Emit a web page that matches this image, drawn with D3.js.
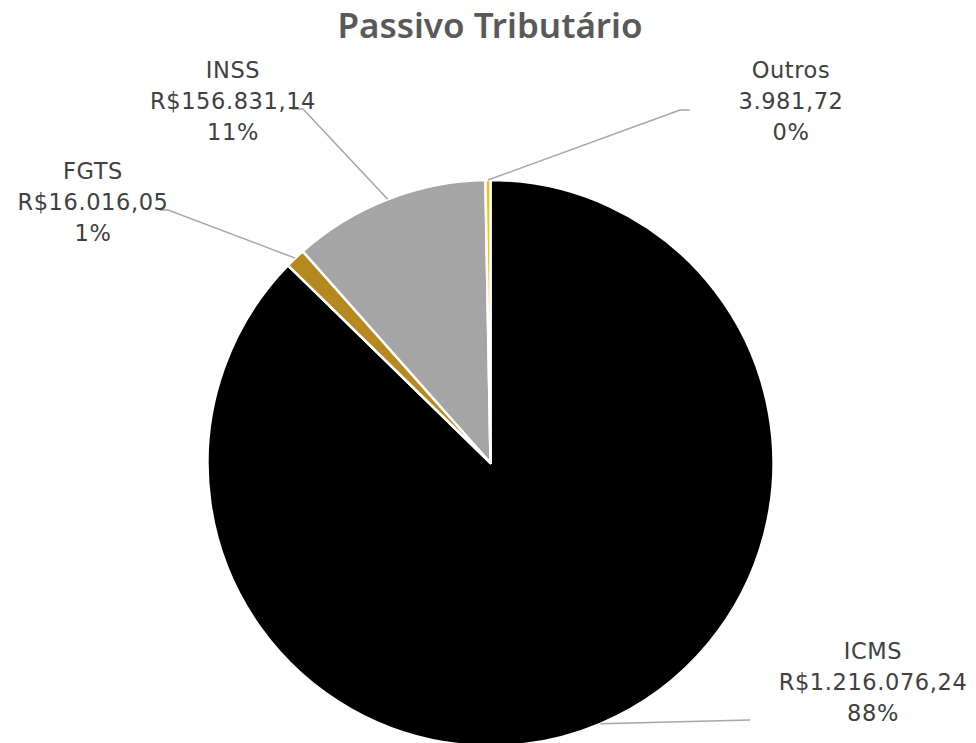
<!DOCTYPE html>
<html>
<head>
<meta charset="utf-8">
<script src="https://cdn.jsdelivr.net/npm/d3@7"></script>
<style>
  body { margin: 0; background: #fff; }
  text { font-family: "DejaVu Sans", sans-serif; }
</style>
</head>
<body>
<svg width="976" height="743"></svg>
<script>
var categories = ["ICMS", "FGTS", "INSS", "Outros"],
    values = [1216076.24, 16016.05, 156831.14, 3981.72],
    valueLabels = ["R$1.216.076,24", "R$16.016,05", "R$156.831,14", "3.981,72"],
    pctLabels = ["88%", "1%", "11%", "0%"],
    colors = ["#000000", "#b5891f", "#a5a5a5", "#ffc000"];

// label placement (layout only): first baseline, and elbow of the leader line
var labelPos = [
  {x: 873, y: 659, ex: 750, ey: 720, hx: 750},
  {x: 93,  y: 179, ex: 168, ey: 210, hx: 160},
  {x: 233, y: 78,  ex: 303, ey: 109, hx: 292},
  {x: 791, y: 78,  ex: 680, ey: 110, hx: 690}
];

var svg = d3.select("svg"),
    width = +svg.attr("width"),
    height = +svg.attr("height"),
    cx = 490.5, cy = 463, radius = 283;

svg.append("text")
    .attr("x", 490)
    .attr("y", 38)
    .attr("text-anchor", "middle")
    .style("font-family", "'Noto Sans', sans-serif")
    .style("font-size", "35px")
    .style("font-weight", 600)
    .style("fill", "#595959")
    .text("Passivo Tributário");

var data = categories.map(function(c, i) {
  return {name: c, value: values[i], vlabel: valueLabels[i], plabel: pctLabels[i], color: colors[i], pos: labelPos[i]};
});

var pie = d3.pie().sort(null).value(d => d.value),
    arc = d3.arc().innerRadius(0).outerRadius(radius);

var g = svg.append("g").attr("transform", "translate(" + cx + "," + cy + ")");

var arcs = pie(data);

g.selectAll(".slice")
  .data(arcs)
  .enter().append("path")
    .attr("class", "slice")
    .attr("d", arc)
    .attr("fill", d => d.data.color)
    .attr("stroke", "#fff")
    .attr("stroke-width", 2.5)
    .attr("stroke-linejoin", "round");

// leader lines
svg.append("g").selectAll("polyline")
  .data(arcs)
  .enter().append("polyline")
    .attr("fill", "none")
    .attr("stroke", "#a6a6a6")
    .attr("stroke-width", 1.5)
    .attr("points", function(d) {
      var a = (d.startAngle + d.endAngle) / 2,
          sx = cx + radius * Math.sin(a),
          sy = cy - radius * Math.cos(a),
          p = d.data.pos;
      return [[sx, sy], [p.ex, p.ey], [p.hx, p.ey]].join(" ");
    });

var labels = svg.append("g").selectAll("text")
  .data(arcs)
  .enter().append("text")
    .attr("text-anchor", "middle")
    .style("font-size", "22.5px")
    .style("letter-spacing", "0.6px")
    .style("fill", "#404040");

labels.each(function(d) {
  var t = d3.select(this), p = d.data.pos;
  [d.data.name, d.data.vlabel, d.data.plabel].forEach(function(s, i) {
    t.append("tspan").attr("x", p.x).attr("y", p.y + i * 31).text(s);
  });
});
</script>
</body>
</html>
